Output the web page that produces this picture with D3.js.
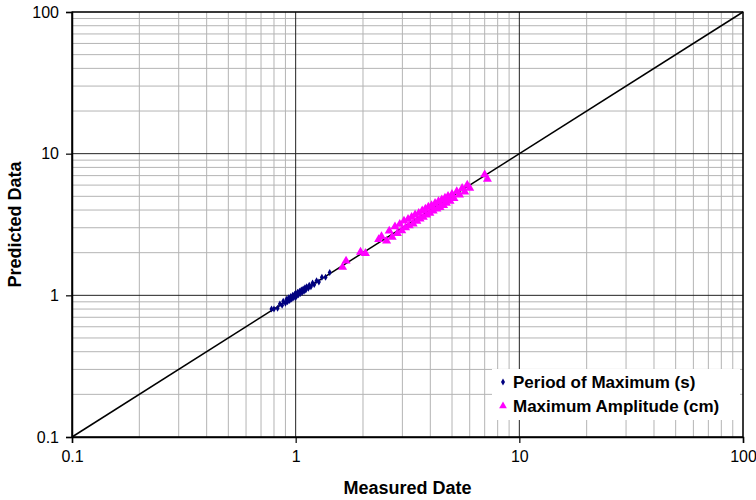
<!DOCTYPE html>
<html lang="en">
<head>
  <meta charset="UTF-8" />
  <title>Predicted vs Measured</title>
  <style>
    body { margin: 0; background: #fff; font-family: 'Liberation Sans', Arial, sans-serif; }
    svg { display: block; }
    .tick-label { font-size: 16px; fill: #000; }
    .axis-title { font-size: 18px; font-weight: bold; fill: #000; }
    .legend-text { font-size: 17px; font-weight: bold; fill: #000; }
  </style>
</head>
<body>
  <svg id="chart" width="756" height="500"></svg>
  <script src="https://d3js.org/d3.v7.min.js"></script>
  <script>
    // Decade ticks for both axes
    const tickValues = [0.1, 1, 10, 100];
    const tickLabels = ["0.1", "1", "10", "100"];

    // Period of Maximum (s): measured, predicted
    const periodMeasured = [0.78, 0.80, 0.83, 0.85, 0.87, 0.88, 0.90, 0.91, 0.92, 0.93, 0.94, 0.95, 0.96, 0.97, 0.98,
      0.99, 1.00, 1.00, 1.01, 1.02, 1.03, 1.04, 1.05, 1.06, 1.07, 1.08, 1.09, 1.10, 1.11, 1.12,
      1.14, 1.15, 1.17, 1.19, 1.21, 1.24, 1.27, 1.31, 1.36, 1.42];
    const periodPredicted = [0.80, 0.80, 0.81, 0.87, 0.85, 0.91, 0.88, 0.94, 0.90, 0.96, 0.92, 0.98, 0.94, 1.00, 0.96,
      1.02, 0.97, 1.03, 0.99, 1.05, 1.01, 1.07, 1.03, 1.09, 1.05, 1.11, 1.07, 1.13, 1.09, 1.15,
      1.12, 1.18, 1.15, 1.22, 1.19, 1.27, 1.24, 1.34, 1.34, 1.45];

    // Maximum Amplitude (cm): measured, predicted
    const ampMeasured = [1.62, 1.68, 1.95, 2.05, 2.35, 2.42, 2.55, 2.62, 2.70, 2.78, 2.85, 2.92, 2.98, 3.05, 3.10,
      3.18, 3.22, 3.30, 3.35, 3.42, 3.48, 3.55, 3.60, 3.68, 3.72, 3.80, 3.85, 3.92, 3.98, 4.05,
      4.12, 4.20, 4.28, 4.35, 4.42, 4.50, 4.58, 4.65, 4.72, 4.80, 4.90, 5.00, 5.10, 5.25, 5.40,
      5.55, 5.70, 5.85, 6.00, 7.00, 7.20];
    const ampPredicted = [1.58, 1.75, 2.02, 1.98, 2.48, 2.60, 2.42, 2.85, 2.58, 3.05, 2.74, 3.18, 2.86, 3.35, 3.00,
      3.45, 3.10, 3.56, 3.20, 3.70, 3.34, 3.80, 3.46, 3.96, 3.56, 4.06, 3.70, 4.20, 3.80, 4.30,
      3.94, 4.46, 4.08, 4.60, 4.18, 4.72, 4.32, 4.86, 4.48, 5.00, 4.62, 5.16, 4.84, 5.40, 5.12,
      5.70, 5.38, 6.00, 5.72, 7.10, 6.60];

    const minorValues = [];
    [0.1, 1, 10].forEach(d => { for (let k = 2; k <= 9; k++) minorValues.push(+(d * k).toFixed(2)); });

    const svg = d3.select("#chart");
    const margin = { top: 12, right: 13, bottom: 63, left: 72 };
    const width = 756 - margin.left - margin.right;
    const height = 500 - margin.top - margin.bottom;

    const x = d3.scaleLog().domain([0.1, 100]).range([0, width]);
    const y = d3.scaleLog().domain([0.1, 100]).range([height, 0]);

    const g = svg.append("g").attr("transform", `translate(${margin.left},${margin.top})`);

    // Minor grid
    g.append("g").selectAll("line").data(minorValues).join("line")
      .attr("x1", d => x(d)).attr("x2", d => x(d)).attr("y1", 0).attr("y2", height)
      .attr("stroke", "#b4b4b4").attr("stroke-width", 1);
    g.append("g").selectAll("line").data(minorValues).join("line")
      .attr("y1", d => y(d)).attr("y2", d => y(d)).attr("x1", 0).attr("x2", width)
      .attr("stroke", "#b4b4b4").attr("stroke-width", 1);

    // Major grid
    g.append("g").selectAll("line").data(tickValues).join("line")
      .attr("x1", d => x(d)).attr("x2", d => x(d)).attr("y1", 0).attr("y2", height)
      .attr("stroke", "#222").attr("stroke-width", 1);
    g.append("g").selectAll("line").data(tickValues).join("line")
      .attr("y1", d => y(d)).attr("y2", d => y(d)).attr("x1", 0).attr("x2", width)
      .attr("stroke", "#222").attr("stroke-width", 1);

    // Axes (ticks outward only at decades)
    const xAxis = d3.axisBottom(x).tickValues(tickValues).tickSize(6)
      .tickFormat((d, i) => tickLabels[i]);
    const yAxis = d3.axisLeft(y).tickValues(tickValues).tickSize(6)
      .tickFormat((d, i) => tickLabels[i]);

    const gx = g.append("g").attr("transform", `translate(0,${height})`).call(xAxis);
    const gy = g.append("g").call(yAxis);
    [gx, gy].forEach(a => {
      a.select(".domain").attr("stroke", "#000").attr("stroke-width", 1.5);
      a.selectAll(".tick line").attr("stroke", "#000").attr("stroke-width", 1.2);
      a.selectAll(".tick text").attr("class", "tick-label")
        .style("font-family", "'Liberation Sans', Arial, sans-serif");
    });
    gx.selectAll(".tick text").attr("y", 14).attr("dy", "0.71em");
    gy.selectAll(".tick text").attr("x", -13);

    // Plot frame
    g.append("rect").attr("width", width).attr("height", height)
      .attr("fill", "none").attr("stroke", "#000").attr("stroke-width", 1.2);

    // 1:1 line
    g.append("line")
      .attr("x1", x(0.1)).attr("y1", y(0.1)).attr("x2", x(100)).attr("y2", y(100))
      .attr("stroke", "#000").attr("stroke-width", 1.5);

    // Amplitude triangles
    const tri = d3.symbol().type(d3.symbolTriangle).size(36);
    g.append("g").selectAll("path").data(ampMeasured).join("path")
      .attr("d", tri)
      .attr("transform", (d, i) => `translate(${x(d)},${y(ampPredicted[i])})`)
      .attr("fill", "#ff00ff");

    // Period diamonds
    const dia = d3.symbol().type(d3.symbolDiamond).size(14);
    g.append("g").selectAll("path").data(periodMeasured).join("path")
      .attr("d", dia)
      .attr("transform", (d, i) => `translate(${x(d)},${y(periodPredicted[i])})`)
      .attr("fill", "#000080");

    // Legend
    const lg = g.append("g").attr("transform", `translate(${420},${357})`);
    lg.append("rect").attr("width", 248).attr("height", 51).attr("fill", "#fff");
    lg.append("path").attr("d", d3.symbol().type(d3.symbolDiamond).size(14))
      .attr("transform", "translate(11,13)").attr("fill", "#000080");
    lg.append("text").attr("class", "legend-text").attr("x", 21).attr("y", 19).text("Period of Maximum (s)");
    lg.append("path").attr("d", d3.symbol().type(d3.symbolTriangle).size(26))
      .attr("transform", "translate(11,37)").attr("fill", "#ff00ff");
    lg.append("text").attr("class", "legend-text").attr("x", 21).attr("y", 43).text("Maximum Amplitude (cm)");

    // Axis titles
    svg.append("text").attr("class", "axis-title")
      .attr("x", margin.left + width / 2).attr("y", 494)
      .attr("text-anchor", "middle").text("Measured Date");
    svg.append("text").attr("class", "axis-title")
      .attr("transform", `translate(21,${margin.top + height / 2}) rotate(-90)`)
      .attr("text-anchor", "middle").text("Predicted Data");
  </script>
</body>
</html>
